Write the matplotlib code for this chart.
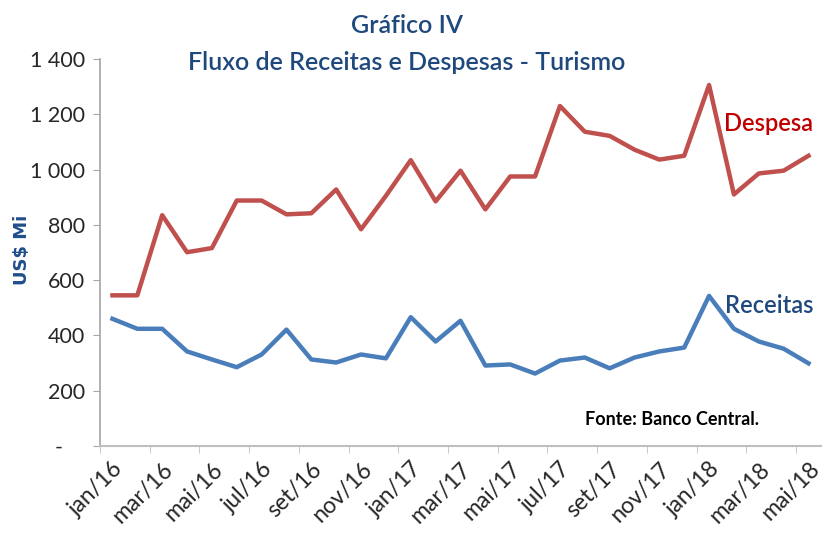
import numpy as np
import matplotlib
matplotlib.use("Agg")
from matplotlib import pyplot as plt
from matplotlib.ticker import FixedLocator, FuncFormatter

plt.rcParams['font.family'] = ['Lato', 'DejaVu Sans']

# monthly data jan/16 .. mai/18 (US$ milhoes)
meses = ['jan/16', 'fev/16', 'mar/16', 'abr/16', 'mai/16', 'jun/16', 'jul/16', 'ago/16',
         'set/16', 'out/16', 'nov/16', 'dez/16', 'jan/17', 'fev/17', 'mar/17', 'abr/17',
         'mai/17', 'jun/17', 'jul/17', 'ago/17', 'set/17', 'out/17', 'nov/17', 'dez/17',
         'jan/18', 'fev/18', 'mar/18', 'abr/18', 'mai/18']
despesa = [545, 545, 835, 701, 716, 888, 888, 838, 842, 928, 784, 905, 1034, 885,
           996, 856, 975, 975, 1230, 1137, 1122, 1072, 1036, 1050, 1306, 910, 986, 996, 1050]
receitas = [460, 424, 424, 342, 313, 285, 331, 421, 313, 302, 331, 317, 466, 378,
            453, 291, 295, 262, 309, 320, 281, 320, 342, 356, 543, 424, 378, 352, 299]

x = np.arange(len(meses))

fig = plt.figure(figsize=(8.22, 5.35), dpi=100)
ax = fig.add_axes([0.1217, 0.1664, 0.877, 0.7233])

ax.plot(x, despesa, '-', color='#C0504D', linewidth=3.2)
ax.plot(x, receitas, '-', color='#4A7EBB', linewidth=3.2)

ax.set_xlim(-0.5, len(meses) - 0.5)
ax.set_ylim(0, 1400)

# y axis
ax.set_yticks(np.arange(0, 1401, 200))
def fmt(v, pos):
    if v == 0:
        return '-    '
    return '{:,.0f}'.format(v).replace(',', ' ')
ax.yaxis.set_major_formatter(FuncFormatter(fmt))
ax.tick_params(axis='y', length=5, color='#A6A6A6', labelsize=15.5, labelcolor='#262626', pad=6)

# x axis: labels every 2 months, marks on category boundaries
ax.set_xticks(x[::2])
ax.set_xticklabels(meses[::2], rotation=45, ha='right', va='top', rotation_mode='anchor')
ax.tick_params(axis='x', which='major', length=0, labelsize=16.5, labelcolor='#262626', pad=9)
ax.xaxis.set_minor_locator(FixedLocator(np.arange(-0.5, len(meses), 2)))
ax.tick_params(axis='x', which='minor', length=5, color='#BFBFBF')

for s in ['top', 'right']:
    ax.spines[s].set_visible(False)
ax.spines['left'].set_color('#A6A6A6')
ax.spines['bottom'].set_color('#BFBFBF')
ax.spines['left'].set_linewidth(1.2)
ax.spines['bottom'].set_linewidth(1.5)

fig.text(0.027, 0.533, 'US$ Mi', rotation=90, ha='center', va='center', fontsize=13,
         fontweight='bold', color='#1F4E8C', family=['DejaVu Sans'])

fig.text(0.495, 0.953, 'Gráfico IV', ha='center', va='center', fontsize=18,
         fontweight='semibold', color='#1F497D')
fig.text(0.495, 0.884, 'Fluxo de Receitas e Despesas - Turismo', ha='center', va='center',
         fontsize=18, fontweight='semibold', color='#1F497D')

ax.text(28.2, 1165, 'Despesa', ha='right', va='center', fontsize=17,
        fontweight='semibold', color='#C00000')
ax.text(28.2, 507, 'Receitas', ha='right', va='center', fontsize=17,
        fontweight='semibold', color='#1F497D')
ax.text(26.0, 94, 'Fonte: Banco Central.', ha='right', va='center', fontsize=13,
        fontweight='bold', color='black')

fig.savefig('out.png', dpi=100)
